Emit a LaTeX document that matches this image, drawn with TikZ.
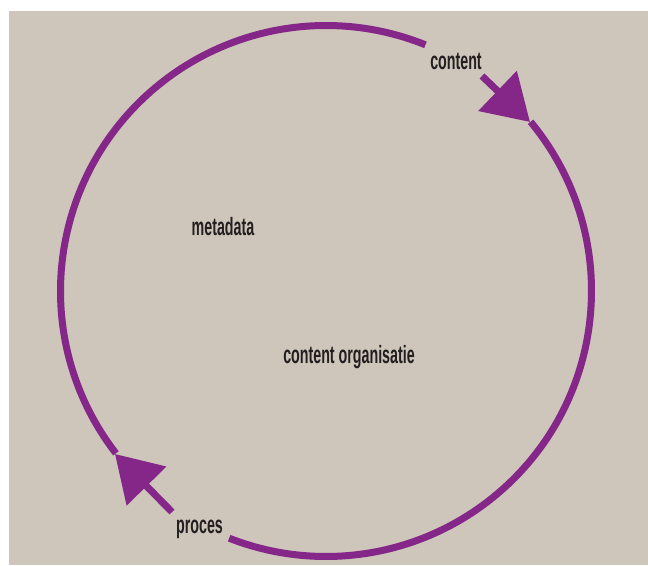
\documentclass[tikz,border=0pt]{standalone}
\usepackage{fontspec}
\setmainfont{Liberation Sans}
\newfontfamily\condfont[FakeStretch=0.57]{Liberation Sans}
\usetikzlibrary{arrows.meta}
\definecolor{bgc}{RGB}{206,197,187}
\definecolor{purp}{RGB}{133,39,137}
\definecolor{txt}{RGB}{35,31,32}
\begin{document}
\begin{tikzpicture}[x=1pt,y=-1pt,
  lbl/.style={font=\condfont\bfseries\fontsize{25}{28}\selectfont, text=txt, anchor=base, inner sep=0pt},
  ring/.style={draw=purp, line width=7pt},
  cyc/.style={draw=purp, line width=7pt, -{Triangle[length=45pt,width=54pt]}}]
\useasboundingbox (0,0) rectangle (648,565);
\fill[bgc] (9,11) rectangle (648,565);
% ring arcs
\draw[ring] (326,291) ++(-39.6:265.5) arc[start angle=-39.6, end angle=111.4, radius=265.5];
\draw[ring] (326,291) ++(142.3:265.5) arc[start angle=142.3, end angle=292, radius=265.5];
% arrows
\coordinate (a1s) at (482,76);
\coordinate (a1t) at (530,122);
\coordinate (a2s) at (172,512);
\coordinate (a2t) at (115,454);
\draw[cyc] (a1s) -- (a1t);
\draw[cyc] (a2s) -- (a2t);
% labels
\node[lbl] (content) at (456,69) {content};
\node[lbl] (proces) at (199.5,533) {proces};
\node[lbl] (metadata) at (223,235.5) {metadata};
\node[lbl] (org) at (349,363) {content organisatie};
\end{tikzpicture}
\end{document}
